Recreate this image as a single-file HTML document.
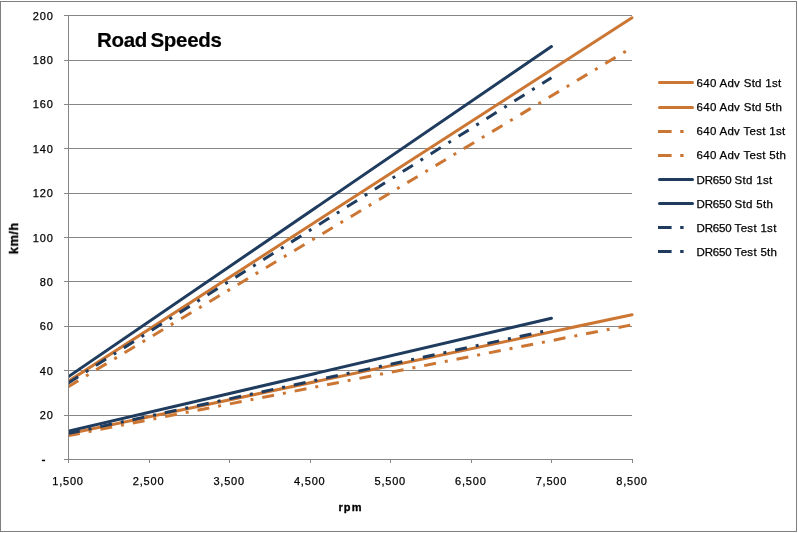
<!DOCTYPE html><html><head><meta charset="utf-8"><style>html,body{margin:0;padding:0;background:#fff;}svg{display:block}text{font-family:"Liberation Sans",sans-serif;will-change:transform}text.n{stroke:#000;stroke-width:0.25px}</style></head><body>
<svg width="798" height="533" viewBox="0 0 798 533">
<rect x="0" y="0" width="798" height="533" fill="#fff"/>
<rect x="0.5" y="1.5" width="796" height="530" fill="none" stroke="#7f7f7f" stroke-width="1"/>
<path d="M64 15.5H632 M64 60.5H632 M64 104.5H632 M64 148.5H632 M64 193.5H632 M64 237.5H632 M64 281.5H632 M64 326.5H632 M64 370.5H632 M64 415.5H632" stroke="#868686" stroke-width="1" fill="none"/>
<text class="n" x="53.9" y="20" font-size="11" letter-spacing="0.9" text-anchor="end">200</text>
<text class="n" x="53.9" y="64" font-size="11" letter-spacing="0.9" text-anchor="end">180</text>
<text class="n" x="53.9" y="108" font-size="11" letter-spacing="0.9" text-anchor="end">160</text>
<text class="n" x="53.9" y="153" font-size="11" letter-spacing="0.9" text-anchor="end">140</text>
<text class="n" x="53.9" y="197" font-size="11" letter-spacing="0.9" text-anchor="end">120</text>
<text class="n" x="53.9" y="242" font-size="11" letter-spacing="0.9" text-anchor="end">100</text>
<text class="n" x="53.9" y="286" font-size="11" letter-spacing="0.9" text-anchor="end">80</text>
<text class="n" x="53.9" y="330" font-size="11" letter-spacing="0.9" text-anchor="end">60</text>
<text class="n" x="53.9" y="375" font-size="11" letter-spacing="0.9" text-anchor="end">40</text>
<text class="n" x="53.9" y="419" font-size="11" letter-spacing="0.9" text-anchor="end">20</text>
<rect x="41.9" y="459.7" width="3.2" height="1.5" fill="#000"/>
<text class="n" x="68.0" y="485.1" font-size="11" letter-spacing="0.8" text-anchor="middle">1,500</text>
<text class="n" x="148.57139999999998" y="485.1" font-size="11" letter-spacing="0.8" text-anchor="middle">2,500</text>
<text class="n" x="229.1428" y="485.1" font-size="11" letter-spacing="0.8" text-anchor="middle">3,500</text>
<text class="n" x="309.7142" y="485.1" font-size="11" letter-spacing="0.8" text-anchor="middle">4,500</text>
<text class="n" x="390.2856" y="485.1" font-size="11" letter-spacing="0.8" text-anchor="middle">5,500</text>
<text class="n" x="470.85699999999997" y="485.1" font-size="11" letter-spacing="0.8" text-anchor="middle">6,500</text>
<text class="n" x="551.4284" y="485.1" font-size="11" letter-spacing="0.8" text-anchor="middle">7,500</text>
<text class="n" x="631.9997999999999" y="485.1" font-size="11" letter-spacing="0.8" text-anchor="middle">8,500</text>
<text x="350.5" y="511" font-size="11" font-weight="bold" letter-spacing="1.1" stroke="#000" stroke-width="0.35" text-anchor="middle">rpm</text>
<text transform="translate(18 238.2) rotate(-90)" font-size="12.8" font-weight="bold" letter-spacing="0.5" stroke="#000" stroke-width="0.3" text-anchor="middle">km/h</text>
<text x="97" y="46.5" font-size="20.5" letter-spacing="-0.3" word-spacing="-2" stroke="#000" stroke-width="0.2" font-weight="bold">Road Speeds</text>
<defs><clipPath id="pc"><rect x="69" y="0" width="600" height="459"/></clipPath></defs><g clip-path="url(#pc)">
<path d="M68.00 433.96L632.00 314.76" stroke="#CC7634" stroke-width="3" fill="none" stroke-linecap="round"/>
<path d="M68.00 381.54L632.00 17.72" stroke="#CC7634" stroke-width="3" fill="none" stroke-linecap="round"/>
<path d="M68.00 435.72L632.00 324.75" stroke="#CC7634" stroke-width="3" fill="none" stroke-dasharray="12 9 3 9"/>
<path d="M68.00 386.79L632.00 47.47" stroke="#CC7634" stroke-width="3" fill="none" stroke-dasharray="12 9 3 9"/>
<path d="M68.00 431.26L551.43 318.31" stroke="#1F3C5E" stroke-width="3" fill="none" stroke-linecap="round"/>
<path d="M68.00 376.92L551.43 46.58" stroke="#1F3C5E" stroke-width="3" fill="none" stroke-linecap="round"/>
<path d="M68.00 433.53L551.43 329.63" stroke="#1F3C5E" stroke-width="3" fill="none" stroke-dasharray="12 9 3 9"/>
<path d="M68.00 383.13L551.43 77.66" stroke="#1F3C5E" stroke-width="3" fill="none" stroke-dasharray="12 9 3 9"/>
</g>
<path d="M68.5 15V463 M64 459.5H632 M68.5 459V463 M149.5 459V463 M229.5 459V463 M310.5 459V463 M390.5 459V463 M471.5 459V463 M551.5 459V463 M632.5 459V463" stroke="#868686" stroke-width="1" fill="none"/>
<path d="M659.5 82.50H692.5" stroke="#CC7634" stroke-width="3" stroke-linecap="round" fill="none"/>
<text class="n" x="696.5" y="87" font-size="11.5" letter-spacing="0.3">640 Adv Std 1st</text>
<path d="M659.5 107.50H692.5" stroke="#CC7634" stroke-width="3" stroke-linecap="round" fill="none"/>
<text class="n" x="696.5" y="111" font-size="11.5" letter-spacing="0.3">640 Adv Std 5th</text>
<path d="M658 131.50H671.6 M680.2 131.50H683.6" stroke="#CC7634" stroke-width="3" fill="none"/>
<text class="n" x="696.5" y="135" font-size="11.5" letter-spacing="0.3">640 Adv Test 1st</text>
<path d="M658 155.50H671.6 M680.2 155.50H683.6" stroke="#CC7634" stroke-width="3" fill="none"/>
<text class="n" x="696.5" y="159" font-size="11.5" letter-spacing="0.3">640 Adv Test 5th</text>
<path d="M659.5 179.50H692.5" stroke="#1F3C5E" stroke-width="3" stroke-linecap="round" fill="none"/>
<text class="n" x="696.5" y="184" font-size="11.5" letter-spacing="0.3"><tspan letter-spacing="-0.15">DR650 </tspan>Std 1st</text>
<path d="M659.5 203.50H692.5" stroke="#1F3C5E" stroke-width="3" stroke-linecap="round" fill="none"/>
<text class="n" x="696.5" y="208" font-size="11.5" letter-spacing="0.3"><tspan letter-spacing="-0.15">DR650 </tspan>Std 5th</text>
<path d="M658 227.50H671.6 M680.2 227.50H683.6" stroke="#1F3C5E" stroke-width="3" fill="none"/>
<text class="n" x="696.5" y="232" font-size="11.5" letter-spacing="0.3"><tspan letter-spacing="-0.15">DR650 </tspan>Test 1st</text>
<path d="M658 251.50H671.6 M680.2 251.50H683.6" stroke="#1F3C5E" stroke-width="3" fill="none"/>
<text class="n" x="696.5" y="256" font-size="11.5" letter-spacing="0.3"><tspan letter-spacing="-0.15">DR650 </tspan>Test 5th</text>
</svg></body></html>
